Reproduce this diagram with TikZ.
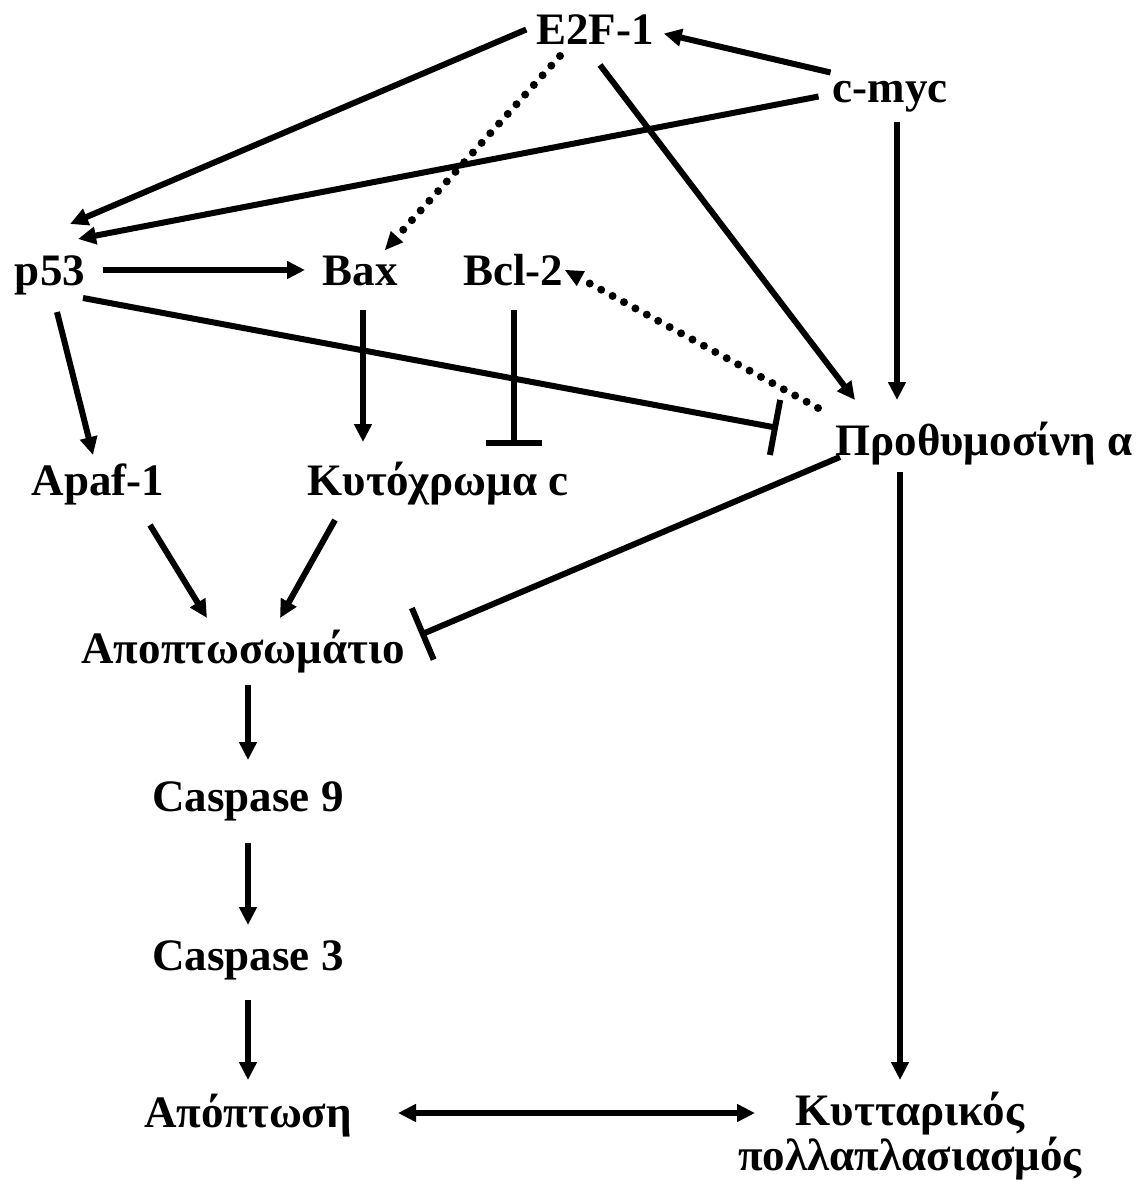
\documentclass[tikz,border=0pt]{standalone}
\usepackage{fontspec}
\setmainfont{Liberation Serif}
\usetikzlibrary{arrows.meta}

\begin{document}
\begin{tikzpicture}[x=1pt, y=-1pt, line width=6pt,
    every node/.style={font=\fontsize{45}{41}\selectfont\bfseries,
      inner sep=0, outer sep=0, text height=31pt, text depth=10pt, anchor=base},
    act/.style={-{Triangle[length=18pt,width=17pt]}},
    both/.style={{Triangle[length=18pt,width=17pt]}-{Triangle[length=18pt,width=17pt]}},
    inh/.style={-{Bar[width=56pt]}},
    weak/.style={-{Triangle[length=18pt,width=17pt,line width=0pt]}, line width=8pt,
      line cap=round, dash pattern=on 0pt off 13pt}]
  \useasboundingbox (0,0) rectangle (1142,1189);

  % top
  \node (e2f) at (595,44) {E2F-1};
  \node (cmyc) at (890,102) {c-myc};

  % middle
  \node (p53) at (50,285) {p53};
  \node (bax) at (360,285) {Bax};
  \node (bcl) at (513,285) {Bcl-2};
  \node (proth) at (984,455) {Προθυμοσίνη α};
  \node (apaf) at (98,495) {Apaf-1};
  \node (kyt) at (438,495) {Κυτόχρωμα c};

  % bottom
  \node (apopt) at (243,663) {Αποπτωσωμάτιο};
  \node (casp9) at (248,811) {Caspase 9};
  \node (casp3) at (248,970) {Caspase 3};
  \node (apopto) at (248,1127) {Απόπτωση};
  \node[align=center] (kyttar) at (910,1170) {Κυτταρικός\\πολλαπλασιασμός};

  \draw[act] ([xshift=-2pt,yshift=19pt]cmyc.west) -- ([xshift=10pt]e2f.east);
  \draw[act] ([xshift=-14pt,yshift=-5pt]cmyc.west) -- ([xshift=-7pt,yshift=15pt]p53.north east);
  \draw[act] ([xshift=-10pt,yshift=4pt]e2f.west) -- ([xshift=-15pt,yshift=30pt]p53.north east);
  \draw[weak] ([xshift=-35pt,yshift=-2pt]e2f.south) -- ([xshift=25pt,yshift=4pt]bax.north);
  \draw[act] ([xshift=5pt,yshift=-11pt]e2f.south) -- ([xshift=-129pt,yshift=24pt]proth.north);
  \draw[act] ([xshift=7pt,yshift=-10pt]cmyc.south) -- ([xshift=-87pt,yshift=24pt]proth.north);
  \draw[weak] ([xshift=-166pt,yshift=16pt]proth.north) -- ([xshift=52pt,yshift=15pt]bcl.base);

  \draw[act] ([xshift=53pt,yshift=15pt]p53.base) -- ([xshift=-55pt,yshift=15pt]bax.base);
  \draw[inh] ([xshift=33pt,yshift=-13pt]p53.base) -- ([xshift=-206pt,yshift=27pt]proth.base);
  \draw[act] ([xshift=3pt,yshift=-15pt]bax.south) -- ([xshift=-75pt,yshift=22pt]kyt.north);
  \draw[inh] ([xshift=1pt,yshift=-15pt]bcl.south) -- ([xshift=76pt,yshift=18pt]kyt.north);
  \draw[act] ([xshift=7pt,yshift=-17pt]p53.south) -- ([xshift=-5pt,yshift=9pt]apaf.north);

  \draw[act] ([xshift=52pt,yshift=-20pt]apaf.south) -- ([xshift=-36pt,yshift=14pt]apopt.north);
  \draw[act] ([xshift=-103pt,yshift=-15pt]kyt.south) -- ([xshift=37pt,yshift=14pt]apopt.north);
  \draw[inh] ([xshift=-144pt,yshift=-2pt]proth.base) -- ([xshift=177pt,yshift=28pt]apopt.base);

  \draw[act] ([xshift=5pt,yshift=-12pt]apopt.south) -- ([yshift=20pt]casp9.north);
  \draw[act] ([yshift=-22pt]casp9.south) -- ([yshift=14pt]casp3.north);
  \draw[act] ([yshift=-20pt]casp3.south) -- ([yshift=16pt]apopto.north);
  \draw[act] ([xshift=-84pt,yshift=-7pt]proth.south) -- ([xshift=-10pt,yshift=90pt]kyttar.base);
  \draw[both] ([xshift=150pt,yshift=14pt]apopto.base) -- ([xshift=-155pt,yshift=57pt]kyttar.base);
\end{tikzpicture}
\end{document}
